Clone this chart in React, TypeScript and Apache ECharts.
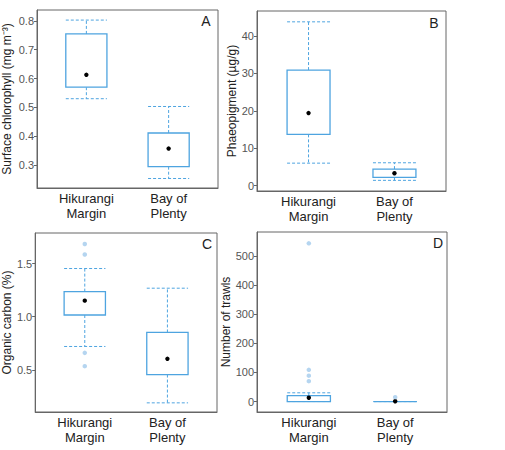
import React, { useEffect, useRef } from "react";
import * as echarts from "echarts";

// Group names on the x axis (positions 1 and 2)
const groups = ["Hikurangi\nMargin", "Bay of\nPlenty"];

// Box summaries: [position, lower whisker, Q1, mean, Q3, upper whisker]
const chlorophyllBoxes = [
  [1, 0.53, 0.57, 0.613, 0.755, 0.803],
  [2, 0.253, 0.294, 0.357, 0.411, 0.503],
];
const phaeopigmentBoxes = [
  [1, 6.0, 13.7, 19.4, 30.9, 43.8],
  [2, 1.4, 2.2, 3.3, 4.4, 6.1],
];
const carbonBoxes = [
  [1, 0.72, 1.016, 1.151, 1.236, 1.453],
  [2, 0.19, 0.456, 0.604, 0.852, 1.268],
];
const trawlBoxes = [
  [1, 0, 0, 13, 20, 30],
  [2, 0, 0, 1, 0, 0],
];

// Outlying observations: [position, value]
const carbonOutliers = [
  [1, 1.683],
  [1, 1.585],
  [1, 0.66],
  [1, 0.535],
];
const trawlOutliers = [
  [1, 544],
  [1, 109],
  [1, 89],
  [1, 70],
  [2, 15],
];

// Tick labels for each y axis
const chlorophyllTicks = [0.3, 0.4, 0.5, 0.6, 0.7, 0.8];
const phaeopigmentTicks = [0, 10, 20, 30, 40];
const carbonTicks = [0.5, 1.0, 1.5];
const trawlTicks = [0, 100, 200, 300, 400, 500];

const BOX_COLOR = "#4ea4e0";
const OUTLIER_COLOR = "#a3cbec";
const FRAME = "#666";
const FONT = "Liberation Sans, Arial, sans-serif";

function boxRenderer(params: any, api: any) {
  const x = api.value(0);
  const lo = api.coord([x, api.value(1)]);
  const q1 = api.coord([x, api.value(2)]);
  const mean = api.coord([x, api.value(3)]);
  const q3 = api.coord([x, api.value(4)]);
  const hi = api.coord([x, api.value(5)]);
  const w = api.size([0.5, 0])[0];
  const cx = lo[0];
  const left = cx - w / 2;
  const right = cx + w / 2;
  const dashed = { stroke: BOX_COLOR, lineWidth: 1, lineDash: [3, 2], fill: "none" };
  return {
    type: "group",
    children: [
      { type: "line", shape: { x1: cx, y1: q1[1], x2: cx, y2: lo[1] }, style: dashed },
      { type: "line", shape: { x1: cx, y1: q3[1], x2: cx, y2: hi[1] }, style: dashed },
      { type: "line", shape: { x1: left, y1: lo[1], x2: right, y2: lo[1] }, style: dashed },
      { type: "line", shape: { x1: left, y1: hi[1], x2: right, y2: hi[1] }, style: dashed },
      {
        type: "rect",
        shape: { x: left, y: q3[1], width: w, height: q1[1] - q3[1] },
        style: { stroke: BOX_COLOR, lineWidth: 1.3, fill: "#fff" },
      },
      { type: "circle", shape: { cx: mean[0], cy: mean[1], r: 2.2 }, style: { fill: "#000" } },
    ],
  };
}

type Panel = {
  grid: { left: number; top: number; width: number; height: number };
  name: string;
  nameGap: number;
  min: number;
  max: number;
  ticks: number[];
  digits: number;
  boxes: number[][];
  outliers: number[][];
  letter: string;
  letterPos: [number, number];
};

const panels: Panel[] = [
  {
    grid: { left: 35, top: 10, width: 183, height: 178 },
    name: "Surface chlorophyll (mg m\u207B\u00B3)",
    nameGap: 24,
    min: 0.22,
    max: 0.838,
    ticks: chlorophyllTicks,
    digits: 1,
    boxes: chlorophyllBoxes,
    outliers: [],
    letter: "A",
    letterPos: [206, 21],
  },
  {
    grid: { left: 257, top: 11, width: 189, height: 180 },
    name: "Phaeopigment (\u00B5g/g)",
    nameGap: 16,
    min: -1.45,
    max: 46.7,
    ticks: phaeopigmentTicks,
    digits: 0,
    boxes: phaeopigmentBoxes,
    outliers: [],
    letter: "B",
    letterPos: [434, 23],
  },
  {
    grid: { left: 31, top: 233, width: 186, height: 179 },
    name: "Organic carbon (%)",
    nameGap: 20,
    min: 0.104,
    max: 1.787,
    ticks: carbonTicks,
    digits: 1,
    boxes: carbonBoxes,
    outliers: carbonOutliers,
    letter: "C",
    letterPos: [207, 244],
  },
  {
    grid: { left: 257, top: 232, width: 190, height: 180 },
    name: "Number of trawls",
    nameGap: 22,
    min: -36,
    max: 583,
    ticks: trawlTicks,
    digits: 0,
    boxes: trawlBoxes,
    outliers: trawlOutliers,
    letter: "D",
    letterPos: [438, 243],
  },
];

function buildOption() {
  const grid: any[] = [];
  const xAxis: any[] = [];
  const yAxis: any[] = [];
  const series: any[] = [];
  const graphic: any[] = [];

  panels.forEach((p, i) => {
    grid.push({ ...p.grid, show: true, borderColor: FRAME, borderWidth: 1, backgroundColor: "#fff" });
    xAxis.push({
      type: "value",
      gridIndex: i,
      min: 0.4,
      max: 2.6,
      splitLine: { show: false },
      axisLine: { show: true, onZero: false, lineStyle: { color: FRAME } },
      axisTick: { show: false },
      axisLabel: {
        customValues: [1, 2],
        formatter: (v: number) => groups[Math.round(v) - 1] ?? "",
        color: "#222",
        fontSize: 13,
        lineHeight: 15,
        margin: 3,
        fontFamily: FONT,
      },
    });
    yAxis.push({
      type: "value",
      gridIndex: i,
      min: p.min,
      max: p.max,
      name: p.name,
      nameLocation: "middle",
      nameGap: p.nameGap,
      nameTextStyle: { color: "#222", fontSize: 12, fontFamily: FONT },
      splitLine: { show: false },
      axisLine: { show: true, onZero: false, lineStyle: { color: FRAME } },
      axisTick: { show: true, length: 3, customValues: p.ticks, lineStyle: { color: FRAME } },
      axisLabel: {
        customValues: p.ticks,
        formatter: (v: number) => v.toFixed(p.digits),
        color: "#555",
        fontSize: 11,
        margin: 3,
        fontFamily: FONT,
      },
    });
    series.push({
      type: "custom",
      xAxisIndex: i,
      yAxisIndex: i,
      renderItem: boxRenderer,
      encode: { x: 0, y: [1, 2, 3, 4, 5] },
      data: p.boxes,
      silent: true,
      z: 2,
    });
    if (p.outliers.length) {
      series.push({
        type: "scatter",
        xAxisIndex: i,
        yAxisIndex: i,
        data: p.outliers,
        symbol: "circle",
        symbolSize: 4.5,
        itemStyle: { color: OUTLIER_COLOR },
        silent: true,
        z: 3,
      });
    }
    graphic.push({
      type: "text",
      x: p.letterPos[0],
      y: p.letterPos[1],
      style: {
        text: p.letter,
        fill: "#222",
        fontSize: 14,
        fontFamily: FONT,
        align: "center",
        verticalAlign: "middle",
      },
    });
  });

  return {
    animation: false,
    backgroundColor: "#fff",
    grid,
    xAxis,
    yAxis,
    series,
    graphic,
  };
}

export default function App() {
  const ref = useRef<HTMLDivElement>(null);
  useEffect(() => {
    if (!ref.current) return;
    const chart = echarts.init(ref.current, undefined, { renderer: "svg" });
    chart.setOption(buildOption() as any);
    return () => chart.dispose();
  }, []);
  return (
    <div
      ref={ref}
      style={{ position: "fixed", left: 0, top: 0, width: 505, height: 450, background: "#fff" }}
    />
  );
}
